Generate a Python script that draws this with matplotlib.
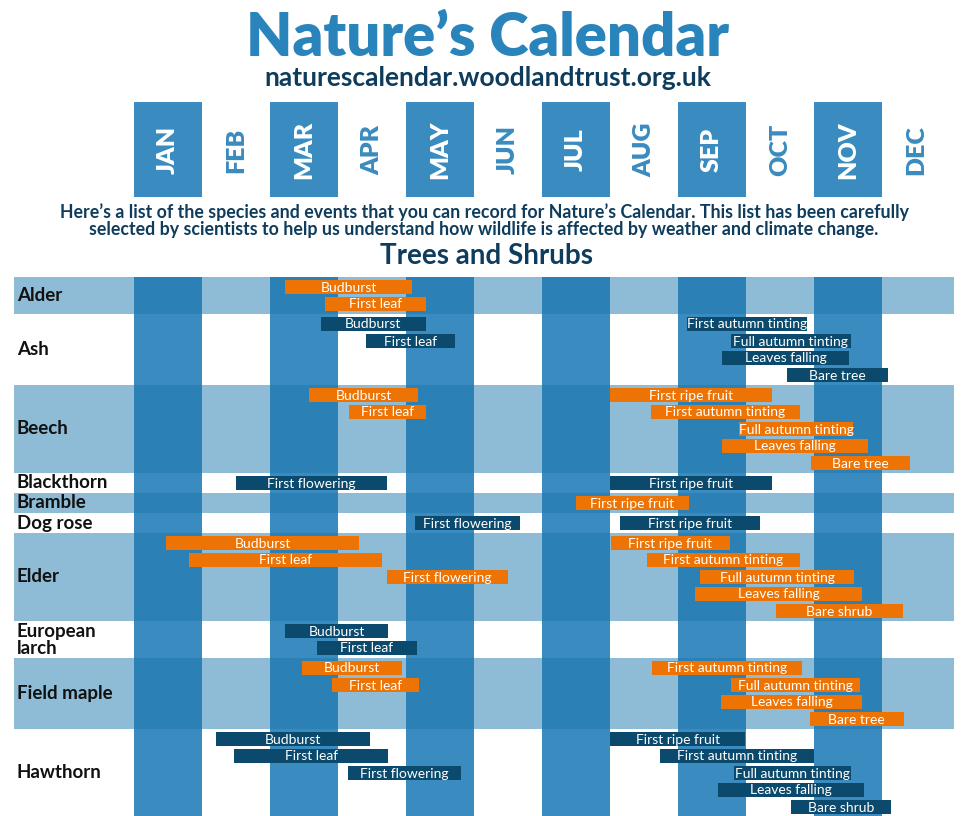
#!/usr/bin/env python3
"""
Nature's Calendar - trees and shrubs recording windows, redrawn with matplotlib.
"""

import matplotlib.pyplot as plt
from matplotlib.patches import Rectangle

plt.rcParams["font.family"] = ["Lato", "DejaVu Sans"]

# --- data -------------------------------------------------------------------
months = ["JAN", "FEB", "MAR", "APR", "MAY", "JUN",
          "JUL", "AUG", "SEP", "OCT", "NOV", "DEC"]

species = ["Alder", "Ash", "Beech", "Blackthorn", "Bramble", "Dog rose",
           "Elder", "European\nlarch", "Field maple", "Hawthorn"]

# number of stacked bars needed per species row
lanes = [2, 4, 5, 1, 1, 1, 5, 2, 4, 5]

# events, in months from 1 January (0 = start of Jan, 12 = end of Dec)
ev_species = (
    [0, 0]
    + [1, 1, 1, 1, 1, 1]
    + [2, 2, 2, 2, 2, 2, 2]
    + [3, 3]
    + [4]
    + [5, 5]
    + [6, 6, 6, 6, 6, 6, 6, 6]
    + [7, 7]
    + [8, 8, 8, 8, 8, 8]
    + [9, 9, 9, 9, 9, 9, 9, 9]
)
ev_name = [
    "Budburst", "First leaf",
    "Budburst", "First leaf", "First autumn tinting", "Full autumn tinting",
    "Leaves falling", "Bare tree",
    "Budburst", "First leaf", "First ripe fruit", "First autumn tinting",
    "Full autumn tinting", "Leaves falling", "Bare tree",
    "First flowering", "First ripe fruit",
    "First ripe fruit",
    "First flowering", "First ripe fruit",
    "Budburst", "First leaf", "First flowering", "First ripe fruit",
    "First autumn tinting", "Full autumn tinting", "Leaves falling", "Bare shrub",
    "Budburst", "First leaf",
    "Budburst", "First leaf", "First autumn tinting", "Full autumn tinting",
    "Leaves falling", "Bare tree",
    "Budburst", "First leaf", "First flowering", "First ripe fruit",
    "First autumn tinting", "Full autumn tinting", "Leaves falling", "Bare shrub",
]
ev_start = [
    2.22, 2.81,
    2.75, 3.41, 8.13, 8.78, 8.65, 9.60,
    2.57, 3.16, 7.00, 7.60, 8.90, 8.65, 9.96,
    1.50, 7.00,
    6.50,
    4.13, 7.15,
    0.47, 0.81, 3.72, 7.01, 7.54, 8.32, 8.25, 9.44,
    2.22, 2.69,
    2.47, 2.91, 7.62, 8.78, 8.63, 9.94,
    1.21, 1.47, 3.15, 7.00, 7.74, 8.82, 8.59, 9.66,
]
ev_end = [
    4.09, 4.29,
    4.29, 4.72, 9.90, 10.54, 10.51, 11.09,
    4.18, 4.29, 9.38, 9.79, 10.57, 10.79, 11.41,
    3.72, 9.38,
    8.16,
    5.68, 9.21,
    3.31, 3.65, 5.50, 8.76, 9.79, 10.59, 10.71, 11.31,
    3.74, 4.16,
    3.94, 4.19, 9.82, 10.68, 10.71, 11.32,
    3.47, 3.74, 4.81, 8.99, 10.00, 10.54, 10.74, 11.13,
]

title = "Nature\u2019s Calendar"
url = "naturescalendar.woodlandtrust.org.uk"
intro = ("Here\u2019s a list of the species and events that you can record for "
         "Nature\u2019s Calendar. This list has been carefully\nselected by "
         "scientists to help us understand how wildlife is affected by weather "
         "and climate change.")
section = "Trees and Shrubs"

# --- style ------------------------------------------------------------------
COL_BLUE = "#3A8BBF"
BAND_BLUE = "#1E79AD"
ORANGE = "#EC7304"
NAVY = "#0B4A6D"
TITLE_BLUE = "#2A84BC"
TEXT_NAVY = "#0E3C5C"

W, H = 968, 816
X0, MW = 134, 68          # pixel x of 1 Jan, pixel width of one month
LANE, PAD = 17, 3


def main():
    fig = plt.figure(figsize=(W / 100, H / 100), dpi=100)
    ax = fig.add_axes([0, 0, 1, 1])
    ax.set_xlim(-X0 / MW, (W - X0) / MW)
    ax.set_ylim(H, 0)
    ax.axis("off")

    # header
    fig.text(488 / W, 1 - 39 / H, title, ha="center", va="center",
             fontsize=43, fontweight="heavy", color=TITLE_BLUE)
    fig.text(488 / W, 1 - 78 / H, url, ha="center", va="center",
             fontsize=19, fontweight="bold", color=TEXT_NAVY)

    for i, m in enumerate(months):
        dark = i % 2 == 0
        if dark:
            ax.add_patch(Rectangle((i, 102), 1, 95, color=COL_BLUE, lw=0))
        ax.text(i + 0.5, 150, m, rotation=90, ha="center", va="center",
                fontsize=18, fontweight="heavy",
                color="white" if dark else COL_BLUE)

    ax.text((484 - X0) / MW, 221, intro, ha="center", va="center",
            fontsize=12.8, fontweight="bold", color=TEXT_NAVY, linespacing=1.0)
    ax.text((486 - X0) / MW, 256, section, ha="center", va="center",
            fontsize=20, fontweight="bold", color=TEXT_NAVY)

    # row layout from the number of lanes
    tops = [277]
    for n in lanes:
        tops.append(tops[-1] + n * LANE + PAD)

    # month columns
    for i in range(0, 12, 2):
        ax.add_patch(Rectangle((i, tops[0]), 1, H - tops[0], color=COL_BLUE, lw=0))

    # species bands and labels
    left, right = (14 - X0) / MW, (954 - X0) / MW
    for k, sp in enumerate(species):
        top, bot = tops[k], tops[k + 1]
        if k % 2 == 0:
            ax.add_patch(Rectangle((left, top), right - left, bot - top,
                                   color=BAND_BLUE, alpha=0.5, lw=0))
        ax.text((17 - X0) / MW, (top + bot) / 2, sp, ha="left", va="center",
                fontsize=13.5, fontweight="bold", color="#111111",
                linespacing=1.0)

    # event bars: spring and autumn events stack separately
    lane_count = {}
    for sp, name, s, e in zip(ev_species, ev_name, ev_start, ev_end):
        key = (sp, s >= 6)
        lane = lane_count.get(key, 0)
        lane_count[key] = lane + 1
        y = tops[sp] + PAD + lane * LANE
        c = ORANGE if sp % 2 == 0 else NAVY
        ax.barh(y + 7, e - s, left=s, height=14, color=c, lw=0)
        ax.text((s + e) / 2, y + 7.5, name, ha="center", va="center",
                fontsize=10, color="white")

    fig.savefig("out.png", dpi=100)


if __name__ == "__main__":
    main()
